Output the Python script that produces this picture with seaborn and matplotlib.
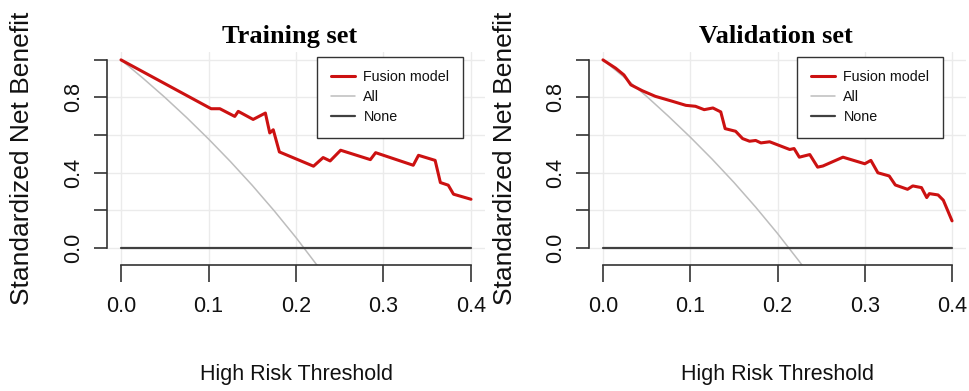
import numpy as np
import pandas as pd
import seaborn as sns
import matplotlib.pyplot as plt

# Training set curves
train_x = [0.0, 0.103, 0.113, 0.130, 0.134, 0.151, 0.165, 0.170, 0.174, 0.181,
           0.220, 0.231, 0.239, 0.251, 0.285, 0.291, 0.334, 0.340, 0.359, 0.365,
           0.374, 0.380, 0.400]
train_y = [1.0, 0.740, 0.740, 0.699, 0.726, 0.683, 0.717, 0.611, 0.628, 0.510,
           0.434, 0.480, 0.462, 0.519, 0.469, 0.506, 0.439, 0.492, 0.465, 0.347,
           0.333, 0.285, 0.258]

# Validation set curves
valid_x = [0.0, 0.0145, 0.024, 0.032, 0.045, 0.060, 0.080, 0.095, 0.106, 0.116,
           0.126, 0.135, 0.140, 0.152, 0.160, 0.168, 0.175, 0.181, 0.191, 0.214,
           0.219, 0.225, 0.237, 0.246, 0.252, 0.275, 0.300, 0.307, 0.315, 0.328,
           0.335, 0.349, 0.355, 0.365, 0.371, 0.374, 0.384, 0.390, 0.400]
valid_y = [1.0, 0.956, 0.920, 0.867, 0.836, 0.806, 0.779, 0.758, 0.753, 0.735,
           0.744, 0.723, 0.634, 0.620, 0.581, 0.567, 0.571, 0.558, 0.564, 0.523,
           0.528, 0.482, 0.496, 0.429, 0.435, 0.482, 0.447, 0.465, 0.399, 0.382,
           0.334, 0.311, 0.329, 0.320, 0.267, 0.288, 0.281, 0.253, 0.143]

# "All" reference curves
all_x = [0.0, 0.025, 0.05, 0.075, 0.1, 0.125, 0.15, 0.175, 0.2, 0.225, 0.25]
all_train = [1.0, 0.903, 0.801, 0.693, 0.579, 0.459, 0.332, 0.197, 0.054, -0.099, -0.26]
all_valid = [1.0, 0.905, 0.806, 0.700, 0.589, 0.472, 0.348, 0.216, 0.076, -0.073, -0.232]

# "None" reference line
none_x = [0.0, 0.4]
none_y = [0.0, 0.0]

titles = ["Training set", "Validation set"]

sns.set_style("white")
plt.rcParams['font.family'] = ['Liberation Sans', 'DejaVu Sans']
plt.rcParams['text.color'] = 'black'

W, H = 969, 391
fig = plt.figure(figsize=(W / 100, H / 100), dpi=100)

# left px, width px, model x/y, all-curve, title x, ylabel x, legend right edge px
panels = [
    (107, 378, train_x, train_y, all_train, 0.484, -0.225, 463),
    (589, 377, valid_x, valid_y, all_valid, 0.496, -0.223, 943),
]
axis_col = "#333333"

for i, (x0, w, mx, my, ally, tx, ylx, legr) in enumerate(panels):
    ax = fig.add_axes([x0 / W, (H - 265) / H, w / W, 213 / H])
    ax.set_xlim(-0.016, 0.416)
    ax.set_ylim(-0.092, 1.042)

    sns.lineplot(x=all_x, y=ally, ax=ax, color="#bdbdbd", lw=1.1, label="All",
                 sort=False, legend=False, zorder=2)
    sns.lineplot(x=none_x, y=none_y, ax=ax, color="#404040", lw=1.6, label="None",
                 sort=False, legend=False, zorder=3)
    sns.lineplot(x=mx, y=my, ax=ax, color="#cc1111", lw=2.2, label="Fusion model",
                 sort=False, legend=False, zorder=4)

    ax.set_xticks([0.0, 0.1, 0.2, 0.3, 0.4])
    ax.set_xticklabels(["0.0", "0.1", "0.2", "0.3", "0.4"])
    ax.set_yticks([0.0, 0.2, 0.4, 0.6, 0.8, 1.0])
    ax.set_yticklabels(["0.0", "", "0.4", "", "0.8", ""], rotation=90, va="center")
    ax.grid(True, color="#ebebeb", lw=1.0)
    ax.set_axisbelow(True)

    for s in ["top", "right"]:
        ax.spines[s].set_visible(False)
    ax.spines["left"].set_bounds(0, 1)
    ax.spines["bottom"].set_bounds(0, 0.4)
    for s in ["left", "bottom"]:
        ax.spines[s].set_color(axis_col)
        ax.spines[s].set_linewidth(1.2)

    ax.tick_params(axis="x", bottom=True, length=12, width=1.2, color=axis_col, pad=10,
                   labelsize=15.5, labelcolor="#111111")
    ax.tick_params(axis="y", left=True, length=9.5, width=1.2, color=axis_col, pad=7,
                   labelsize=15.5, labelcolor="#111111")

    ax.set_xlabel("High Risk Threshold", fontsize=15.5, color="#111111")
    ax.xaxis.set_label_coords(0.5, -0.516)
    ax.xaxis.label.set_va("center")
    ax.set_ylabel("Standardized Net Benefit", fontsize=19, color="#111111")
    ax.yaxis.set_label_coords(ylx, 0.5)
    ax.yaxis.label.set_va("center")

    ax.text(tx, 1.042, titles[i], transform=ax.transAxes, ha="center", va="baseline",
            fontsize=19, fontweight="bold", color="black",
            family=["Liberation Serif", "DejaVu Serif"])

    handles, labels = ax.get_legend_handles_labels()
    order = [labels.index(l) for l in ["Fusion model", "All", "None"]]
    leg = ax.legend([handles[k] for k in order], [labels[k] for k in order],
                    loc="upper right", bbox_to_anchor=((legr - x0) / w, 0.977),
                    fontsize=10.3, frameon=True, fancybox=False, framealpha=1,
                    edgecolor="#333333", borderpad=0.95, labelspacing=0.4,
                    handlelength=1.7, handletextpad=0.6, borderaxespad=0)
    leg.get_frame().set_linewidth(1.0)
    for t in leg.get_texts():
        t.set_color("#111111")

fig.savefig("out.png", dpi=100)
